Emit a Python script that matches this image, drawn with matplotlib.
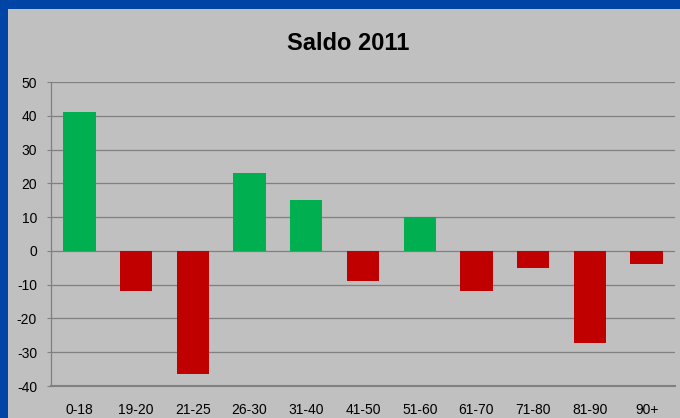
import numpy as np
import matplotlib.pyplot as plt
from matplotlib.patches import Rectangle

plt.rcParams['font.family'] = ['Liberation Sans', 'DejaVu Sans']
plt.rcParams['axes.unicode_minus'] = False

# dados
faixas = ['0-18', '19-20', '21-25', '26-30', '31-40', '41-50',
          '51-60', '61-70', '71-80', '81-90', '90+']
saldo = [41, -12, -36.5, 23, 15, -9, 10, -12, -5, -27.2, -4]
yticks = [-40, -30, -20, -10, 0, 10, 20, 30, 40, 50]

verde = '#00B050'
vermelho = '#C00000'
cinza = '#C0C0C0'

fig = plt.figure(figsize=(6.8, 4.18), dpi=100, facecolor='#0044A6')
W, H = 680, 418
# fundo cinza do slide (borda azul a esquerda e em cima)
fig.patches.append(Rectangle((8 / W, 0), 1, 1 - 9 / H, transform=fig.transFigure,
                             facecolor=cinza, edgecolor='none', zorder=-10))

ax = fig.add_axes([51 / W, (H - 386) / H, (675 - 51) / W, (386 - 82) / H])
ax.set_zorder(5)
ax.set_facecolor(cinza)

x = np.arange(len(faixas))
cores = [verde if v >= 0 else vermelho for v in saldo]
ax.bar(x, saldo, width=0.57, color=cores, zorder=3)

ax.set_xlim(-0.5, len(faixas) - 0.5)
ax.set_ylim(-40, 50)
ax.set_yticks(yticks)
ax.set_xticks(x)
ax.set_xticklabels(faixas)
ax.yaxis.grid(True, color='#808080', linewidth=0.9, zorder=1)
ax.set_axisbelow(True)

for s in ['top', 'right']:
    ax.spines[s].set_visible(False)
ax.spines['left'].set_color('#808080')
ax.spines['left'].set_linewidth(0.9)
ax.spines['bottom'].set_color('#808080')
ax.spines['bottom'].set_linewidth(1.5)

ax.tick_params(axis='y', length=3, color='#808080', pad=7, labelsize=10)
ax.tick_params(axis='x', length=0, pad=12, labelsize=10)

fig.text(348 / W, 1 - 44 / H, 'Saldo 2011', ha='center', va='center',
         fontsize=17, fontweight='bold')

plt.savefig('out.png', dpi=100, facecolor=fig.get_facecolor())
plt.close(fig)
